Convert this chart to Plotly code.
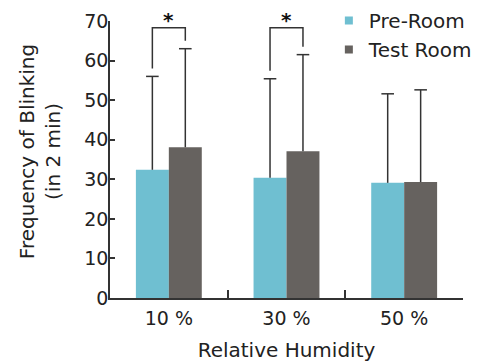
import plotly.graph_objects as go

categories = ["10 %", "30 %", "50 %"]
pre_room = [32.4, 30.4, 29.1]
test_room = [38.1, 37.1, 29.3]
pre_err_top = [56.0, 55.4, 51.6]
test_err_top = [63.0, 61.5, 52.6]
significant = [True, True, False]
y_ticks = [0, 10, 20, 30, 40, 50, 60, 70]

CYAN = "#6fbfd1"
GRAY = "#66625f"
DARK = "#333333"
FONT = "DejaVu Sans"

bargap = 0.44
bar_w = (1 - bargap) / 2
off = bar_w / 2
xi = list(range(len(categories)))

fig = go.Figure()
fig.add_trace(go.Bar(x=xi, y=pre_room, name="Pre-Room", marker=dict(color=CYAN, line=dict(width=0)), showlegend=False))
fig.add_trace(go.Bar(x=xi, y=test_room, name="Test Room", marker=dict(color=GRAY, line=dict(width=0)), showlegend=False))

# error bars (upper only)
for vals, tops, sgn in [(pre_room, pre_err_top, -1), (test_room, test_err_top, 1)]:
    ex, ey = [], []
    for i, (v, t) in enumerate(zip(vals, tops)):
        ex += [i + sgn * off, i + sgn * off, None]
        ey += [v, t, None]
    fig.add_trace(go.Scatter(x=ex, y=ey, mode="lines", line=dict(color=DARK, width=1.5),
                             showlegend=False, hoverinfo="skip"))
    fig.add_trace(go.Scatter(x=[i + sgn * off for i in xi], y=tops, mode="markers",
                             marker=dict(symbol="line-ew", size=9, line=dict(color=DARK, width=1.5)),
                             showlegend=False, hoverinfo="skip"))

# significance brackets
bracket_top = 68.3
gap = 2.0
for i, sig in enumerate(significant):
    if not sig:
        continue
    fig.add_trace(go.Scatter(
        x=[i - off, i - off, i + off, i + off],
        y=[pre_err_top[i] + gap, bracket_top, bracket_top, test_err_top[i] + gap],
        mode="lines", line=dict(color=DARK, width=1.5), showlegend=False, hoverinfo="skip"))
    fig.add_annotation(x=i, y=bracket_top, text="<b>*</b>", showarrow=False, yanchor="bottom",
                       font=dict(family=FONT, size=20, color="#111111"), yshift=-6)

# legend entries
for name, col in [("Pre-Room", CYAN), ("Test Room", GRAY)]:
    fig.add_trace(go.Scatter(x=[None], y=[None], mode="markers", name=name,
                             marker=dict(symbol="square", size=8, color=col)))

fig.add_annotation(xref="paper", yref="paper", x=-0.198, y=0.527,
                   text="Frequency of Blinking<br>(in 2 min)", textangle=-90, showarrow=False,
                   xanchor="center", yanchor="middle",
                   font=dict(family=FONT, size=20, color="#222"))

fig.update_layout(
    width=491, height=364,
    margin=dict(l=110, r=28, t=21, b=66, pad=0, autoexpand=False),
    paper_bgcolor="white", plot_bgcolor="white",
    barmode="group", bargap=bargap, bargroupgap=0,
    font=dict(family=FONT, size=19, color="#222"),
    legend=dict(x=0.62, y=1.072, xanchor="left", yanchor="top", bgcolor="rgba(0,0,0,0)",
                font=dict(family=FONT, size=20, color="#222"), itemwidth=30, tracegroupgap=0),
    xaxis=dict(range=[-0.5, 2.5], tickvals=xi, ticktext=categories, ticks="",
               showline=True, linecolor=DARK, linewidth=1.5, showgrid=False, zeroline=False,
               ticklabelstandoff=2,
               minor=dict(tickvals=[i + 0.5 for i in xi[:-1]], ticks="inside", ticklen=8,
                          tickcolor=DARK, tickwidth=1.5, showgrid=False),
               title=dict(text="Relative Humidity", font=dict(family=FONT, size=20, color="#222"), standoff=15)),
    yaxis=dict(range=[0, 70], tickvals=y_ticks, ticks="inside", ticklen=5, tickcolor=DARK, tickwidth=1.5,
               showline=True, linecolor=DARK, linewidth=1.5, showgrid=False, zeroline=False,
               ticklabelstandoff=-4),
)

fig.write_html("out.html")
